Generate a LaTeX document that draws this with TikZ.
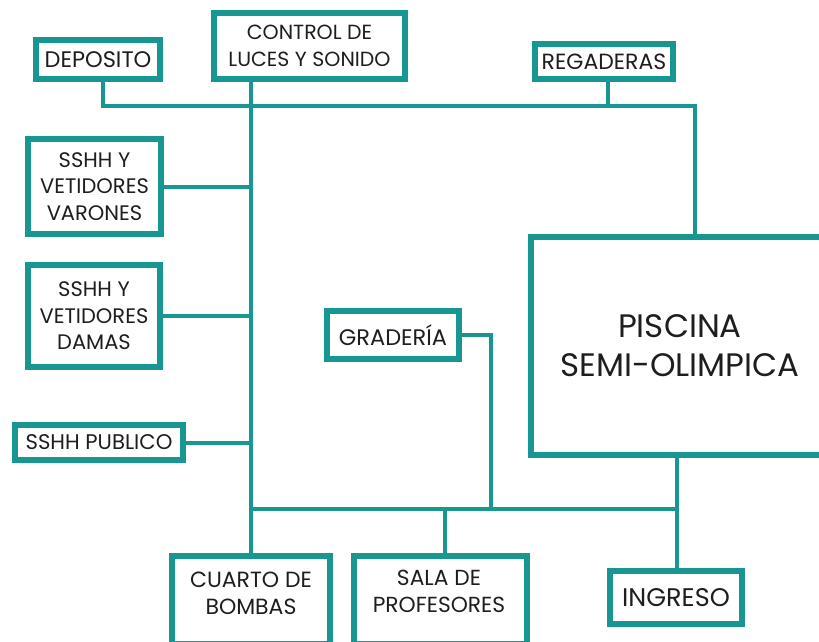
\documentclass[tikz,border=0pt]{standalone}
\usepackage{fontspec}
\setmainfont{Poppins}
\usetikzlibrary{calc}
\definecolor{tealc}{RGB}{24,151,146}
\definecolor{txt}{RGB}{30,30,30}
\newcommand{\fsz}[2]{\fontsize{#1}{#2}\selectfont}
\begin{document}
\begin{tikzpicture}[x=1pt,y=-1pt,
  box/.style={draw=tealc, line width=6pt, fill=white, inner sep=0pt, align=center, text=txt},
  conn/.style={draw=tealc, line width=4pt},
  lbl/.style={inner sep=0pt, align=center, text=txt}]
\useasboundingbox (0,0) rectangle (819,642);
\clip (0,0) rectangle (819,642);
\fill[white] (0,0) rectangle (819,642);

% boxes
\node[box, minimum width=124, minimum height=39, font=\fsz{22.5}{27}] (depo) at (98,59.5) {DEPOSITO};
\node[box, minimum width=191, minimum height=66, font=\fsz{20.5}{27}] (ctrl) at (309.5,46) {CONTROL DE\\LUCES Y SONIDO};
\node[box, minimum width=138, minimum height=35, font=\fsz{22}{27}] (rega) at (604,61.5) {REGADERAS};
\node[box, minimum width=133, minimum height=95, font=\fsz{21}{26.5}] (var) at (94.5,186.5) {SSHH Y\\VETIDORES\\VARONES};
\node[box, minimum width=132, minimum height=102, font=\fsz{21}{26.5}] (dam) at (94,316) {SSHH Y\\VETIDORES\\DAMAS};
\node[box, minimum width=168, minimum height=35, font=\fsz{21.2}{27}] (pub) at (99,442.5) {SSHH PUBLICO};
\node[box, minimum width=132, minimum height=48, font=\fsz{22.5}{27}] (grad) at (393,335) {GRADERÍA};
\node[box, minimum width=298, minimum height=218, font=\fsz{32.5}{39}] (pisc) at (680,346) {PISCINA\\SEMI-OLIMPICA};
\node[box, minimum width=158, minimum height=88] (cuarto) at (251,600) {};
\node[lbl, font=\fsz{22}{27}] (cuartoT) at (251,593) {CUARTO DE\\BOMBAS};
\node[box, minimum width=173, minimum height=88] (sala) at (440.5,600) {};
\node[lbl, font=\fsz{21.8}{27}] (salaT) at (439,591) {SALA DE\\PROFESORES};
\node[box, minimum width=132, minimum height=53, font=\fsz{25.5}{27}] (ing) at (676,597.5) {INGRESO};

% junction coordinates
\coordinate (jL) at (103,106);
\coordinate (jR) at (695,106);
\coordinate (jRg) at (608,106);
\coordinate (mB) at (251,509);
\coordinate (bR) at (677,509);
\coordinate (gB) at (491,509);
\coordinate (sB) at (445,509);

% connectors
\draw[conn] (depo.south -| jL) -- (jL) -- (jR) -- (jR |- pisc.north);
\draw[conn] (rega.south -| jRg) -- (jRg);
\draw[conn] (ctrl.south -| mB) -- (cuarto.north -| mB);
\draw[conn] (var.east) -- (var.east -| mB);
\draw[conn] (dam.east) -- (dam.east -| mB);
\draw[conn] (pub.east) -- (pub.east -| mB);
\draw[conn] (mB) -- (bR);
\draw[conn] (grad.east) -| (gB);
\draw[conn] (sB) -- (sala.north -| sB);
\draw[conn] (pisc.south -| bR) -- (ing.north -| bR);
\end{tikzpicture}
\end{document}
